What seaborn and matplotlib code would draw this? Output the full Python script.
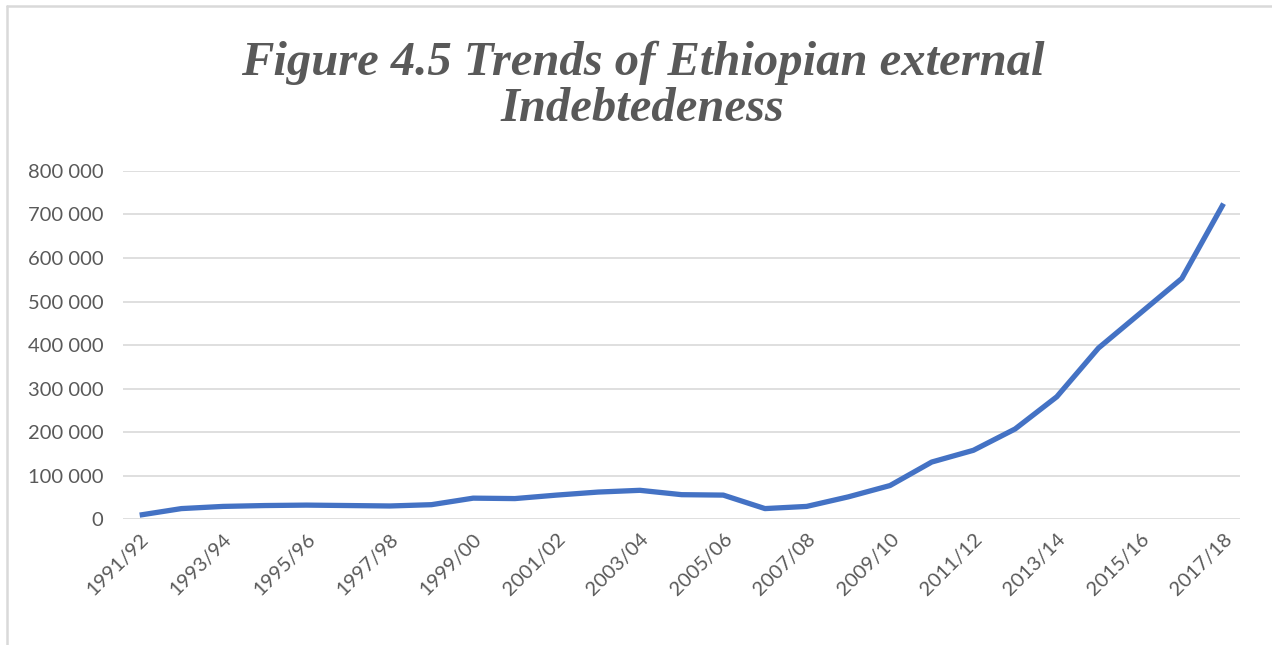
import matplotlib
matplotlib.use("Agg")
import matplotlib.pyplot as plt
import matplotlib.ticker as mticker
from matplotlib.lines import Line2D
import seaborn as sns
import pandas as pd

# Fiscal years and external debt stock
years = [
    "1991/92", "1992/93", "1993/94", "1994/95", "1995/96", "1996/97",
    "1997/98", "1998/99", "1999/00", "2000/01", "2001/02", "2002/03",
    "2003/04", "2004/05", "2005/06", "2006/07", "2007/08", "2008/09",
    "2009/10", "2010/11", "2011/12", "2012/13", "2013/14", "2014/15",
    "2015/16", "2016/17", "2017/18",
]
debt = [
    9000, 24000, 29000, 31000, 32000, 31000,
    30000, 33000, 48000, 47000, 55000, 62000,
    66000, 56000, 55000, 24000, 29000, 51000,
    77000, 131000, 158000, 207000, 281000, 393000,
    473000, 553000, 725000,
]
y_ticks = [0, 100000, 200000, 300000, 400000, 500000, 600000, 700000, 800000]

title = "Figure 4.5 Trends of Ethiopian external\nIndebtedeness"

df = pd.DataFrame({"year": years, "debt": debt})

sns.set_theme(style="white")
plt.rcParams["font.family"] = ["Lato", "DejaVu Sans"]

TXT = "#595959"
GRID = "#D9D9D9"

fig = plt.figure(figsize=(12.72, 6.45), dpi=100)
ax = fig.add_axes([0.0967, 0.1953, 0.8783, 0.5396])

sns.lineplot(data=df, x="year", y="debt", ax=ax, color="#4472C4",
             linewidth=3.8, sort=False, solid_capstyle="butt")

ax.set_ylim(0, 800000)
ax.set_xlim(-0.4, len(years) - 0.6)
ax.set_yticks(y_ticks)
ax.yaxis.set_major_formatter(
    mticker.FuncFormatter(lambda v, p: f"{int(v):,}".replace(",", " ")))
ax.set_xticks(range(0, len(years), 2))
ax.set_xticklabels(years[::2], rotation=45, ha="right",
                   rotation_mode="anchor")

ax.grid(axis="y", color=GRID, linewidth=1.2)
ax.set_axisbelow(True)
for s in ax.spines.values():
    s.set_visible(False)
ax.tick_params(axis="both", length=0, colors=TXT, labelsize=14.5)
ax.tick_params(axis="y", pad=14)
ax.tick_params(axis="x", pad=8)
ax.set_xlabel("")
ax.set_ylabel("")

fig.text(0.505, 0.867, title, ha="center", va="center", color=TXT,
         fontsize=35, fontweight="bold", fontstyle="italic",
         family="Liberation Serif", linespacing=1.05)

# light frame along the top and left edges of the chart area
fig.add_artist(Line2D([0.0055, 0.0055], [0, 0.99], transform=fig.transFigure,
                      color=GRID, linewidth=1.8))
fig.add_artist(Line2D([0.0055, 1.0], [0.99, 0.99], transform=fig.transFigure,
                      color=GRID, linewidth=1.8))

fig.savefig("out.png", dpi=100, facecolor="white")
